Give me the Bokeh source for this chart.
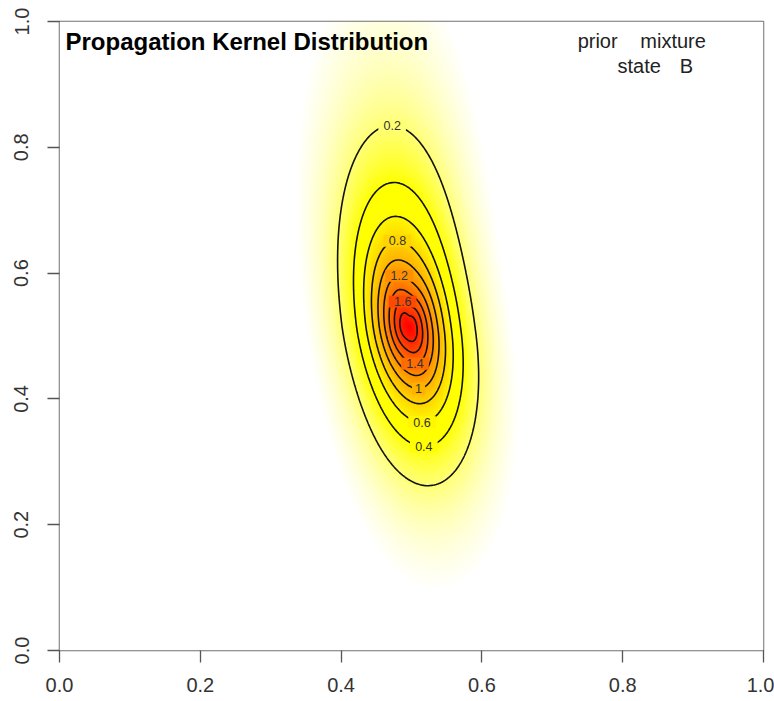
import colorsys
import numpy as np
from bokeh.plotting import figure
from bokeh.models import Range1d, LinearColorMapper, Label, FixedTicker
from bokeh.embed import file_html
from bokeh.resources import INLINE
from bokeh.core.properties import value

# ---- data: kernel shape (data units) ----
kernel_peak = 2.02
kernel_center = [0.4957, 0.5151]          # x, y of the mode
kernel_scale_x = 0.0555                   # horizontal scale
kernel_scale_y = [0.1463, 0.1304]         # upward, downward scale
kernel_rho = -0.30                        # tilt (correlation)
kernel_shape = [1.45, 1.05, 1.25]         # exponent: sideways, upward, downward

contour_levels = [0.2, 0.4, 0.6, 0.8, 1.0, 1.2, 1.4, 1.6, 1.8]
contour_labels = ["0.2", "0.4", "0.6", "0.8", "1", "1.2", "1.4", "1.6", ""]
label_side = ["top", "bottom", "bottom", "top", "bottom", "top", "bottom", "top", ""]

ticks = [0.0, 0.2, 0.4, 0.6, 0.8, 1.0]
tick_labels = ["0.0", "0.2", "0.4", "0.6", "0.8", "1.0"]
title_text = "Propagation Kernel Distribution"
legend_row1 = ["prior", "mixture"]
legend_row2 = ["state", "B"]

ZMAX = kernel_peak
Z_WHITE = 0.025   # below this: white
Z_PALE = 0.40     # white -> yellow between Z_WHITE and Z_PALE
Z_YELLOW = 0.55   # above this: yellow -> orange -> red

# ---- density grid ----
gx = np.linspace(0.0, 1.0, 401)
gy = np.linspace(0.0, 1.0, 401)
X, Y = np.meshgrid(gx, gy)
Yd = Y - kernel_center[1]
up = Yd > 0
dx = (X - kernel_center[0]) / kernel_scale_x
dy = Yd / np.where(up, kernel_scale_y[0], kernel_scale_y[1])
R2 = (dx * dx - 2 * kernel_rho * dx * dy + dy * dy) / (1 - kernel_rho ** 2)
c2 = dy * dy / (dx * dx + dy * dy + 1e-12)
beta = kernel_shape[0] * (1 - c2) + np.where(up, kernel_shape[1], kernel_shape[2]) * c2
Z = kernel_peak * np.exp(-(R2 ** (beta / 2.0)))


def heat(z):
    if z <= Z_YELLOW:
        s = min(max((z - Z_WHITE) / (Z_PALE - Z_WHITE), 0.0), 1.0) ** 0.8
        return "#%02x%02x%02x" % (255, 255, int(round(255 * (1 - s))))
    t = min(max((ZMAX - z) / (ZMAX - Z_YELLOW), 0.0), 1.0)
    h = (60.0 * t) / 360.0
    r, g, b = colorsys.hsv_to_rgb(h, 1.0, 1.0)
    return "#%02x%02x%02x" % (int(round(r * 255)), int(round(g * 255)), int(round(b * 255)))


NPAL = 1024
palette = [heat(ZMAX * i / (NPAL - 1)) for i in range(NPAL)]
mapper = LinearColorMapper(palette=palette, low=0.0, high=ZMAX)

p = figure(width=774, height=701, x_range=Range1d(0, 1), y_range=Range1d(0, 1),
           output_backend="svg", toolbar_location=None,
           min_border_left=59, min_border_right=11, min_border_top=21, min_border_bottom=51)

p.image(image=[Z], x=0, y=0, dw=1, dh=1, color_mapper=mapper)

cr = p.contour(gx, gy, Z, levels=contour_levels, line_color="#111111", line_width=1.6)

# label positions on the contour lines
lx, ly, lt, lc, lw = [], [], [], [], []
try:
    ldata = cr.line_renderer.data_source.data
    xs_all, ys_all = ldata["xs"], ldata["ys"]
except Exception:
    import contourpy
    gen = contourpy.contour_generator(gx, gy, Z, line_type=contourpy.LineType.ChunkCombinedNan)
    xs_all, ys_all = [], []
    for lev in contour_levels:
        pts = gen.lines(lev)[0][0]
        xs_all.append(pts[:, 0])
        ys_all.append(pts[:, 1])

for i, lev in enumerate(contour_levels):
    if not contour_labels[i]:
        continue
    xs = np.asarray(xs_all[i], dtype=float)
    ys = np.asarray(ys_all[i], dtype=float)
    k = np.nanargmax(ys) if label_side[i] == "top" else np.nanargmin(ys)
    lx.append(float(xs[k]))
    ly.append(float(ys[k]))
    lt.append(contour_labels[i])
    lc.append(heat(lev))
    lw.append(7.2 * len(contour_labels[i]) + 6)

p.rect(x=lx, y=ly, width=lw, height=12, width_units="screen", height_units="screen",
       fill_color=lc, line_color=None)
p.text(x=lx, y=ly, text=lt, text_align="center", text_baseline="middle",
       text_font=value("Liberation Sans"), text_font_size="12.5px", text_color="#333333")

# axes styled like base R
for ax in (p.xaxis[0], p.yaxis[0]):
    ax.ticker = FixedTicker(ticks=ticks)
    ax.major_label_overrides = {t: s for t, s in zip(ticks, tick_labels)}
    ax.axis_line_color = None
    ax.major_tick_out = 12
    ax.major_tick_in = 0
    ax.minor_tick_line_color = None
    ax.major_tick_line_color = "#555555"
    ax.major_tick_line_width = 1.3
    ax.major_label_text_font = "Liberation Sans"
    ax.major_label_text_font_size = "20px"
    ax.major_label_text_color = "#333333"
p.xaxis[0].major_label_standoff = 15
p.yaxis[0].major_label_standoff = 19
p.yaxis[0].major_label_orientation = "vertical"

p.xgrid.grid_line_color = None
p.ygrid.grid_line_color = None
p.outline_line_color = "#707070"
p.outline_line_width = 1.5

p.add_layout(Label(x=0.0085, y=0.946, text=title_text, text_font="Liberation Sans",
                   text_font_size="24px", text_font_style="bold", text_color="black"))
p.add_layout(Label(x=0.736, y=0.9523, text=legend_row1[0], text_font="Liberation Sans",
                   text_font_size="20px", text_color="#222222"))
p.add_layout(Label(x=0.825, y=0.9523, text=legend_row1[1], text_font="Liberation Sans",
                   text_font_size="20px", text_color="#222222"))
p.add_layout(Label(x=0.7926, y=0.9123, text=legend_row2[0], text_font="Liberation Sans",
                   text_font_size="20px", text_color="#222222"))
p.add_layout(Label(x=0.881, y=0.9123, text=legend_row2[1], text_font="Liberation Sans",
                   text_font_size="20px", text_color="#222222"))

open("out.html", "w").write(file_html(p, INLINE))
